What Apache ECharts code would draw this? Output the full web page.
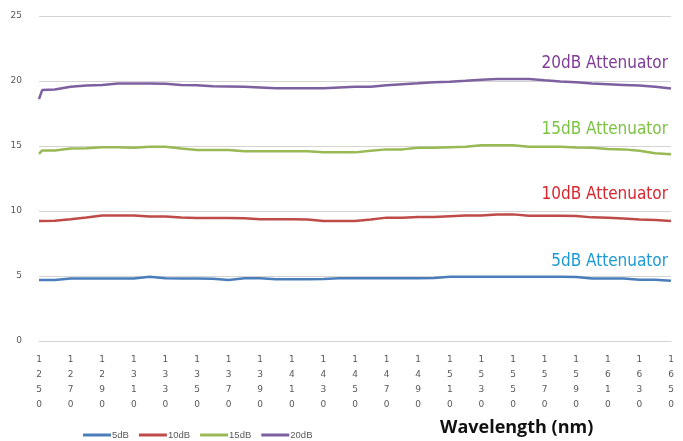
<!DOCTYPE html>
<html>
<head>
<meta charset="utf-8">
<script src="https://cdn.jsdelivr.net/npm/echarts@6/dist/echarts.min.js"></script>
<style>html,body{margin:0;padding:0;background:#fff}#c{width:683px;height:441px}</style>
</head>
<body>
<div id="c"></div>
<script>
const wavelengths = [1250,1252,1260,1270,1280,1290,1300,1310,1320,1330,1340,1350,1360,1370,1380,1390,1400,1410,1420,1430,1440,1450,1460,1470,1480,1490,1500,1510,1520,1530,1540,1550,1560,1570,1580,1590,1600,1610,1620,1630,1640,1650];
const s5dB  = [4.7,4.7,4.7,4.8,4.8,4.8,4.8,4.8,4.95,4.82,4.8,4.8,4.78,4.7,4.83,4.83,4.75,4.75,4.75,4.76,4.83,4.83,4.83,4.83,4.83,4.83,4.85,4.94,4.94,4.94,4.94,4.94,4.94,4.94,4.94,4.92,4.8,4.8,4.8,4.72,4.72,4.63];
const s10dB = [9.23,9.23,9.25,9.37,9.5,9.66,9.66,9.66,9.57,9.57,9.5,9.46,9.46,9.46,9.45,9.37,9.37,9.37,9.35,9.23,9.23,9.23,9.35,9.49,9.49,9.54,9.54,9.6,9.66,9.66,9.74,9.74,9.63,9.63,9.63,9.62,9.51,9.48,9.43,9.35,9.3,9.23];
const s15dB = [14.4,14.66,14.66,14.8,14.82,14.91,14.91,14.86,14.94,14.94,14.8,14.69,14.69,14.69,14.6,14.6,14.6,14.6,14.6,14.51,14.51,14.51,14.63,14.74,14.74,14.86,14.86,14.9,14.94,15.06,15.06,15.06,14.94,14.94,14.94,14.89,14.87,14.77,14.74,14.63,14.45,14.37];
const s20dB = [18.6,19.3,19.35,19.55,19.65,19.7,19.8,19.8,19.8,19.78,19.7,19.68,19.6,19.58,19.55,19.5,19.45,19.45,19.45,19.45,19.5,19.55,19.55,19.68,19.75,19.82,19.9,19.95,20.02,20.1,20.15,20.15,20.15,20.05,19.97,19.9,19.8,19.75,19.7,19.65,19.55,19.42];
const seriesNames = ['5dB','10dB','15dB','20dB'];
const annotations = ['20dB Attenuator','15dB Attenuator','10dB Attenuator','5dB Attenuator'];
const xTitle = 'Wavelength (nm)';

const lineColors = ['#4a7ebb','#be4b48','#98b954','#7d60a0'];
const allData = [s5dB, s10dB, s15dB, s20dB];
const pair = arr => wavelengths.map((w,i)=>[w, arr[i]]);

const chart = echarts.init(document.getElementById('c'));
const annFont = '"Liberation Sans Narrow","DejaVu Sans Condensed",sans-serif';
chart.setOption({
  animation: false,
  grid: {left: 39, right: 12, top: 16, bottom: 100},
  xAxis: {
    type: 'value', min: 1250, max: 1650, interval: 20,
    axisLine: {show: true, lineStyle: {color: '#d4d4d4', width: 1}},
    axisTick: {show: false},
    splitLine: {show: false},
    axisLabel: {
      color: '#595959', fontSize: 9, lineHeight: 15, margin: 11,
      fontFamily: 'DejaVu Sans',
      formatter: v => String(v).split('').join('\n')
    }
  },
  yAxis: {
    type: 'value', min: 0, max: 25, interval: 5,
    axisLine: {show: false}, axisTick: {show: false},
    splitLine: {lineStyle: {color: '#d4d4d4', width: 1}},
    axisLabel: {color: '#595959', fontSize: 9, margin: 17, fontFamily: 'DejaVu Sans'}
  },
  legend: {
    top: 425, left: 78, itemWidth: 28, itemHeight: 3, itemGap: 10,
    icon: 'rect',
    textStyle: {fontSize: 9.5, color: '#595959', padding: [0,0,0,-4]},
    data: seriesNames
  },
  series: allData.map((d,i)=>({
    name: seriesNames[i], type: 'line', data: pair(d),
    showSymbol: false, symbol: 'none',
    lineStyle: {width: 2.5, color: lineColors[i]},
    itemStyle: {color: lineColors[i]}
  })),
  graphic: [
    {type:'text', right: 15, top: 55, style:{text: annotations[0], fill:'#7f3b96', font: '17px ' + annFont}},
    {type:'text', right: 15, top: 121, style:{text: annotations[1], fill:'#7cc243', font: '17px ' + annFont}},
    {type:'text', right: 15, top: 186, style:{text: annotations[2], fill:'#d9262e', font: '17px ' + annFont}},
    {type:'text', right: 15, top: 253, style:{text: annotations[3], fill:'#1d9ad6', font: '17px ' + annFont}},
    {type:'text', left: 440, top: 419, style:{text: xTitle, fill:'#111', font: 'bold 18px "Open Sans",sans-serif'}}
  ]
});
</script>
</body>
</html>
